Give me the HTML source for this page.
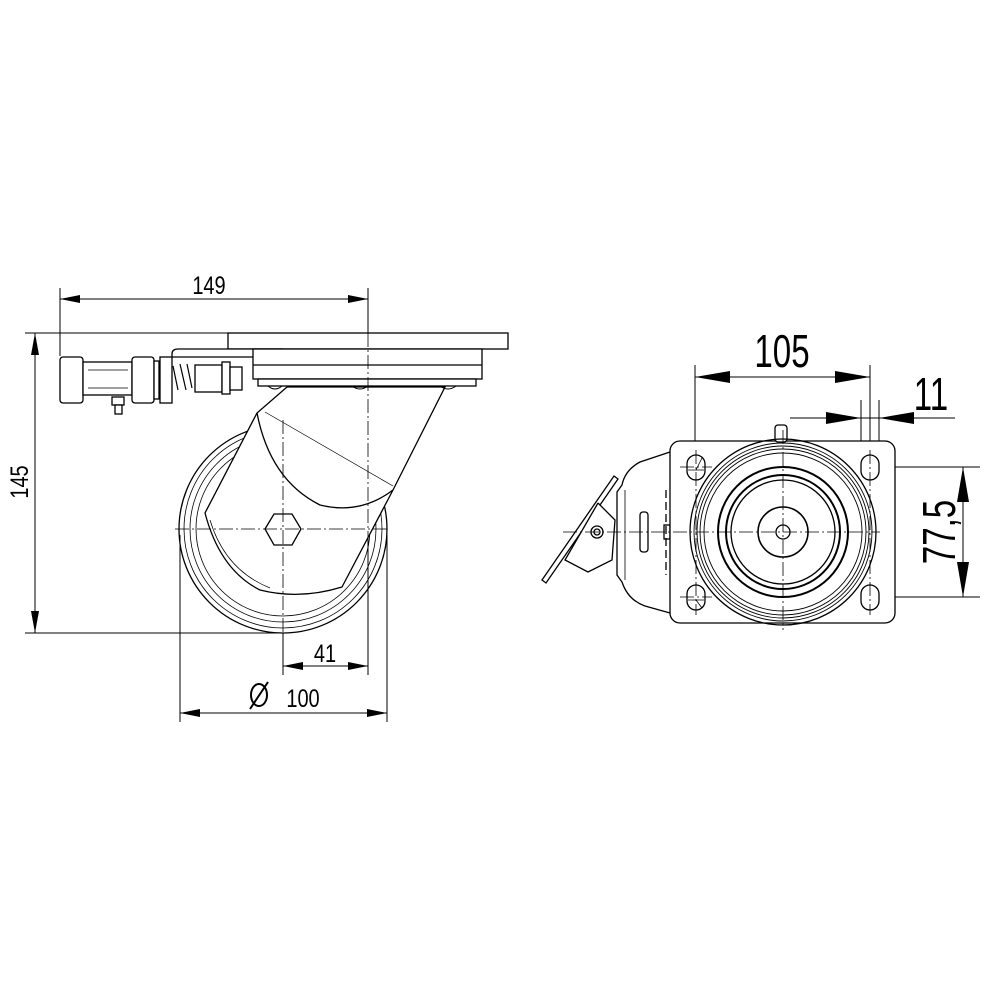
<!DOCTYPE html>
<html><head><meta charset="utf-8"><style>
html,body{margin:0;padding:0;background:#fff;}
svg{display:block;}
text{font-family:"Liberation Sans",sans-serif;fill:#000;}
</style></head><body>
<svg width="1000" height="1000" viewBox="0 0 1000 1000" xmlns="http://www.w3.org/2000/svg">
<rect width="1000" height="1000" fill="#fff"/>
<g stroke="#000" fill="none" stroke-width="1">
<!-- ===== LEFT VIEW dimension/extension lines ===== -->
<line x1="60" y1="288" x2="60" y2="356"/>
<line x1="368" y1="288" x2="368" y2="675"/>
<line x1="60" y1="299" x2="368" y2="299"/>
<line x1="25" y1="333" x2="228" y2="333"/>
<line x1="25" y1="633" x2="283" y2="633"/>
<line x1="35" y1="333" x2="35" y2="633"/>
<line x1="180" y1="535" x2="180" y2="722"/>
<line x1="387" y1="535" x2="387" y2="722"/>
<line x1="283" y1="633" x2="283" y2="675"/>
<line x1="283" y1="666" x2="368" y2="666"/>
<line x1="180" y1="713" x2="387" y2="713"/>
</g>
<g fill="#000">
<polygon points="60,299 80,295 80,303"/><polygon points="368,299 348,295 348,303"/>
<polygon points="35,333 31,355 39,355"/><polygon points="35,633 31,611 39,611"/>
<polygon points="283,666 303,662 303,670"/><polygon points="368,666 348,662 348,670"/>
<polygon points="180,713 200,709 200,717"/><polygon points="387,713 367,709 367,717"/>
</g>
<g font-size="25">
<text x="209" y="294" text-anchor="middle" transform="translate(209 0) scale(0.8 1) translate(-209 0)">149</text>
<text x="325" y="662" text-anchor="middle" transform="translate(325 0) scale(0.8 1) translate(-325 0)">41</text>
<text x="303" y="707" text-anchor="middle" transform="translate(303 0) scale(0.8 1) translate(-303 0)">100</text>
<text transform="translate(28 482) rotate(-90) scale(0.8 1)" text-anchor="middle">145</text>
</g>
<g stroke="#000" fill="none" stroke-width="2">
<ellipse cx="259" cy="695" rx="8" ry="11"/>
<line x1="250" y1="709" x2="268" y2="682"/>
</g>

<!-- ===== LEFT VIEW drawing ===== -->
<g stroke="#000" fill="none" stroke-width="1.3">
<!-- wheel -->
<circle cx="283" cy="529" r="104"/>
<circle cx="283" cy="529" r="99" stroke-width="0.8"/>
<circle cx="283" cy="529" r="93" stroke-width="0.8"/>
<circle cx="283" cy="529" r="87" stroke-width="0.8"/>
<!-- fork (white fill to hide wheel) -->
<path d="M287,387 L445,387 L393,490 L342,587 Q300,600 260,590 Q220,570 205,513 L257,413 Z" fill="#fff"/>
<path d="M257,413 Q270,480 320,505 Q360,515 393,490" />
<line x1="265" y1="412" x2="393" y2="486" stroke-width="0.7"/>
<path d="M210,520 Q225,570 270,588" stroke-width="0.7"/>
<!-- hex -->
<polygon points="265,529 274,514 292,514 301,529 292,545 274,545" fill="#fff"/>
<!-- plates -->
<rect x="228" y="333" width="280" height="16" fill="#fff"/>
<path d="M172,357 L172,354 Q172,349 178,349 L282,349 L282,357 Z" fill="#fff"/>
<rect x="253" y="349" width="229" height="30" fill="#fff"/>
<line x1="253" y1="365" x2="482" y2="365"/>
<rect x="258" y="379" width="218" height="7" fill="#fff"/>
<path d="M268,386 Q275,392 282,386 M352,386 Q360,392 368,386 M440,386 Q448,392 456,386" stroke-width="1"/>
<!-- brake mechanism -->
<rect x="60" y="357" width="23" height="46" rx="3" fill="#fff"/>
<rect x="83" y="362" width="49" height="33" fill="#fff"/>
<line x1="88" y1="370" x2="128" y2="370" stroke-width="0.7"/>
<line x1="88" y1="388" x2="128" y2="388" stroke-width="0.7"/>
<rect x="132" y="357" width="22" height="46" rx="3" fill="#fff"/>
<rect x="154" y="361" width="5" height="38" fill="#fff"/>
<rect x="160" y="357" width="12" height="46" fill="#fff"/>
<path d="M173,366 L178,390 M180,364 L186,390 M187,364 L192,388" stroke-width="1.2"/>
<rect x="195" y="365" width="27" height="27" fill="#fff"/>
<rect x="222" y="362" width="8" height="32" fill="#fff"/>
<rect x="230" y="367" width="12" height="23" fill="#fff"/>
<rect x="112" y="397" width="12" height="8" fill="#fff"/>
<rect x="115" y="405" width="7" height="9" fill="#fff"/>
</g>
<!-- center lines left -->
<g stroke="#000" stroke-width="0.8" stroke-dasharray="14,3,2,3" fill="none">
<line x1="175" y1="529" x2="390" y2="529"/>
<line x1="283" y1="420" x2="283" y2="640"/>
<line x1="368" y1="333" x2="368" y2="620"/>
</g>

<!-- ===== RIGHT VIEW ===== -->
<g stroke="#000" fill="none" stroke-width="1">
<line x1="695" y1="365" x2="695" y2="467"/>
<line x1="870" y1="365" x2="870" y2="467"/>
<line x1="695" y1="377" x2="870" y2="377"/>
<line x1="861" y1="400" x2="861" y2="467"/>
<line x1="879" y1="400" x2="879" y2="467"/>
<line x1="790" y1="418" x2="955" y2="418"/>
<line x1="880" y1="467" x2="980" y2="467"/>
<line x1="880" y1="597" x2="980" y2="597"/>
<line x1="963" y1="467" x2="963" y2="597"/>
</g>
<g fill="#000">
<polygon points="695,377 730,371 730,383"/><polygon points="870,377 835,371 835,383"/>
<polygon points="861,418 826,412 826,424"/><polygon points="879,418 914,412 914,424"/>
<polygon points="963,467 957,502 969,502"/><polygon points="963,597 957,562 969,562"/>
</g>
<g font-size="46">
<text x="782" y="367" text-anchor="middle" transform="translate(782 0) scale(0.72 1) translate(-782 0)">105</text>
<text x="931" y="410" text-anchor="middle" transform="translate(931 0) scale(0.72 1) translate(-931 0)">11</text>
<text transform="translate(955 532) rotate(-90) scale(0.72 1)" text-anchor="middle">77,5</text>
</g>
<g stroke="#000" fill="none" stroke-width="1.3">
<!-- housing -->
<path d="M670,452 L640,462 Q625,470 622,485 L617,492 L617,575 L622,582 Q628,600 645,606 L670,613" fill="#fff"/>
<line x1="625" y1="490" x2="625" y2="580" stroke-width="0.8"/>
<rect x="640" y="512" width="8" height="40" rx="3"/>
<rect x="664" y="525" width="6" height="14"/>
<line x1="666" y1="490" x2="666" y2="575" stroke-dasharray="8,4"/>
<!-- lever -->
<polygon points="614,476 618,479 546,583 542,580" fill="#fff"/>
<path d="M598,503 L615,520 L612,560 L588,572 L565,560 L598,503" fill="#fff"/>
<circle cx="597" cy="532" r="6"/>
<circle cx="597" cy="532" r="3"/>
<!-- plate -->
<rect x="670" y="441" width="225" height="182" rx="10" fill="#fff"/>
<rect x="775" y="425" width="12" height="17" rx="3" fill="#fff"/>
<circle cx="783" cy="532" r="93"/>
<circle cx="783" cy="532" r="89" stroke-width="0.9"/>
<circle cx="783" cy="532" r="86" stroke-width="0.9"/>
<circle cx="783" cy="532" r="83" stroke-width="0.9"/>
<circle cx="783" cy="532" r="79" stroke-width="0.9"/>
<circle cx="783" cy="532" r="65" stroke-width="2"/>
<circle cx="783" cy="532" r="57" stroke-width="2"/>
<circle cx="783" cy="532" r="52"/>
<circle cx="783" cy="532" r="25" stroke-width="1.6"/>
<circle cx="783" cy="532" r="7"/>
<!-- holes -->
<rect x="687" y="455" width="18" height="25" rx="9"/>
<rect x="687" y="585" width="18" height="25" rx="9"/>
<rect x="861" y="455" width="18" height="25" rx="9"/>
<rect x="861" y="585" width="18" height="25" rx="9"/>
<path d="M688,470 L704,470 M696,470 L702,458 M688,600 L704,600 M696,600 L702,608" stroke-width="0.8"/>
</g>
<g stroke="#000" stroke-width="0.8" stroke-dasharray="14,3,2,3" fill="none">
<line x1="563" y1="532" x2="880" y2="532"/>
<line x1="783" y1="430" x2="783" y2="630"/>
<line x1="680" y1="467" x2="712" y2="467"/>
<line x1="680" y1="597" x2="712" y2="597"/>
<line x1="696" y1="450" x2="696" y2="615"/>
<line x1="870" y1="450" x2="870" y2="615"/>
</g>
</svg>
</body></html>
